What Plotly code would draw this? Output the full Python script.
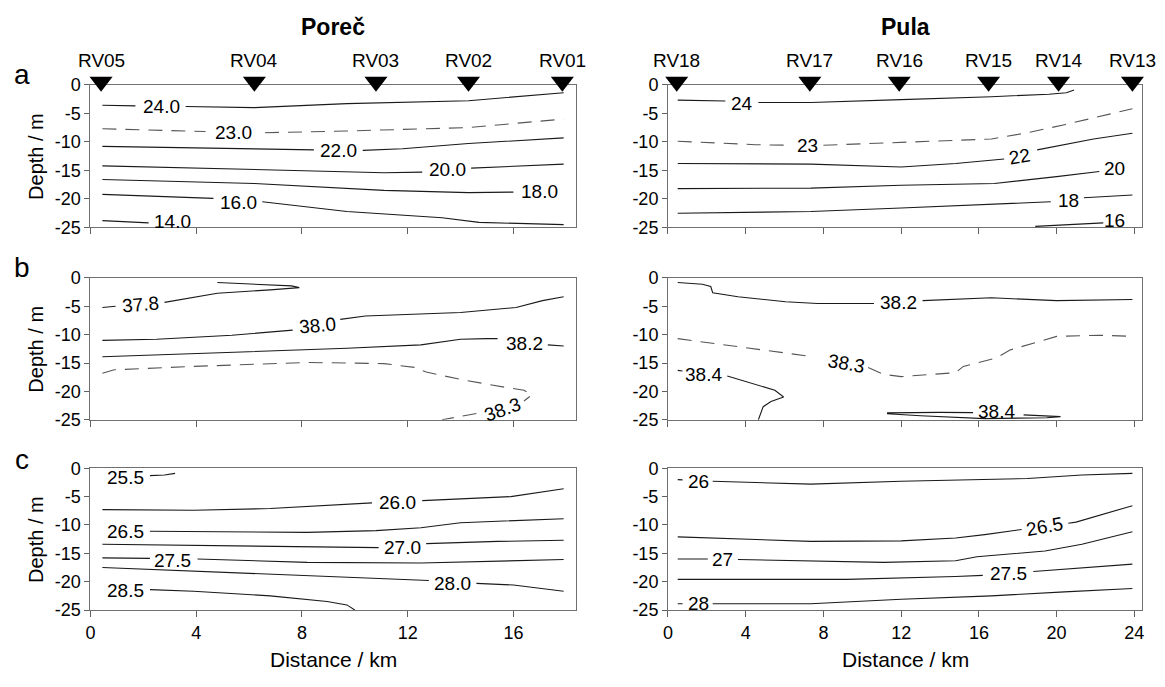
import plotly.graph_objects as go

FONT = "Liberation Sans, Arial, sans-serif"

# ---------------- stations ----------------
POREC_STATIONS = ["RV05", "RV04", "RV03", "RV02", "RV01"]
POREC_STATION_KM = [0.4, 6.2, 10.8, 14.3, 17.85]
PULA_STATIONS = ["RV18", "RV17", "RV16", "RV15", "RV14", "RV13"]
PULA_STATION_KM = [0.45, 7.3, 11.9, 16.5, 20.1, 23.9]

DEPTH_TICKS = [0, -5, -10, -15, -20, -25]
DEPTH_TICK_TEXT = ["0", "-5", "-10", "-15", "-20", "-25"]
POREC_KM_TICKS = [0, 4, 8, 12, 16]
PULA_KM_TICKS = [0, 4, 8, 12, 16, 20, 24]

# ---------------- (a) temperature, Porec ----------------
POR_T24_X = [0.45, 1.7, None, 3.6, 6.2, 9.7, 14.3, 17.9]
POR_T24_Y = [-3.6, -3.7, None, -3.8, -4.0, -3.3, -2.8, -1.4]
POR_T23_X = [0.45, 3.0, 4.35, None, 6.6, 9.7, 14.3, 17.9]
POR_T23_Y = [-7.7, -8.0, -8.2, None, -8.4, -8.1, -7.5, -6.0]
POR_T22_X = [0.45, 6.2, 8.45, None, 10.3, 11.8, 14.3, 17.9]
POR_T22_Y = [-10.8, -11.2, -11.4, None, -11.5, -11.2, -10.3, -9.3]
POR_T20_X = [0.45, 6.2, 11.1, 12.55, None, 14.4, 17.9]
POR_T20_Y = [-14.2, -14.8, -15.4, -15.3, None, -14.6, -13.9]
POR_T18_X = [0.45, 6.2, 11.1, 14.3, 16.0]
POR_T18_Y = [-16.6, -17.3, -18.5, -18.9, -18.8]
POR_T16_X = [0.45, 4.65, None, 6.5, 9.7, 13.3, 14.7, 17.9]
POR_T16_Y = [-19.2, -19.9, None, -20.5, -22.2, -23.3, -24.1, -24.5]
POR_T14_X = [0.45, 2.2]
POR_T14_Y = [-23.8, -24.2]
POR_T_LABELS = ["24.0", "23.0", "22.0", "20.0", "18.0", "16.0", "14.0"]
POR_T_LABEL_X = [2.7, 5.4, 9.4, 13.5, 17.0, 5.6, 3.1]
POR_T_LABEL_Y = [-3.8, -8.4, -11.6, -14.8, -18.7, -20.6, -24.0]
POR_T_LABEL_ANGLE = [0, 0, 0, 0, 0, 0, 0]

# ---------------- (a) temperature, Pula ----------------
PUL_T24_X = [0.5, 2.95, None, 4.65, 7.35, 12.0, 16.65, 19.6, 20.5, 20.9]
PUL_T24_Y = [-2.7, -2.85, None, -3.1, -3.1, -2.6, -2.1, -1.65, -1.4, -0.9]
PUL_T23_X = [0.5, 4.5, 6.3, None, 8.0, 12.0, 16.65, 18.5, 20.4, 23.9]
PUL_T23_Y = [-9.9, -10.5, -10.6, None, -10.6, -10.1, -9.5, -8.4, -7.0, -4.2]
PUL_T22_X = [0.5, 7.35, 12.0, 14.8, 17.3, None, 19.0, 21.9, 23.9]
PUL_T22_Y = [-13.8, -13.9, -14.4, -13.8, -13.0, None, -11.4, -9.5, -8.5]
PUL_T20_X = [0.5, 7.35, 12.0, 16.8, 20.0, 22.2]
PUL_T20_Y = [-18.2, -18.1, -17.6, -17.3, -16.1, -15.2]
PUL_T18_X = [0.5, 7.35, 12.0, 16.65, 19.7, None, 21.4, 23.9]
PUL_T18_Y = [-22.5, -22.2, -21.6, -21.0, -20.5, None, -19.8, -19.3]
PUL_T16_X = [18.9, 21.9, 22.4]
PUL_T16_Y = [-24.8, -24.3, -24.2]
PUL_T_LABELS = ["24", "23", "22", "20", "18", "16"]
PUL_T_LABEL_X = [3.8, 7.2, 18.1, 23.0, 20.6, 23.0]
PUL_T_LABEL_Y = [-3.2, -10.6, -12.5, -14.6, -20.3, -23.7]
PUL_T_LABEL_ANGLE = [0, 0, -10, 0, 0, 0]

# ---------------- (b) salinity, Porec ----------------
POR_S378_X = [0.45, 0.95, None, 2.8, 4.8, 6.8, 7.6, 7.9, 7.6, 6.0, 4.8]
POR_S378_Y = [-5.2, -5.0, None, -4.3, -2.7, -2.1, -1.9, -1.7, -1.4, -1.1, -0.8]
POR_S380_X = [0.45, 2.5, 5.35, 7.65, None, 9.45, 10.4, 14.0, 16.1, 17.1, 17.9]
POR_S380_Y = [-11.0, -10.8, -10.1, -9.2, None, -7.3, -6.7, -6.1, -5.2, -4.0, -3.3]
POR_S382_X = [0.45, 5.35, 9.7, 12.5, 14.0, 15.0, 15.4, None, 17.3, 17.9]
POR_S382_Y = [-13.9, -13.1, -12.4, -11.8, -10.8, -10.7, -10.7, None, -11.8, -12.0]
POR_S383_X = [0.45, 0.9, 3.9, 8.2, 11.1, 12.3, 12.7, 14.0, 15.7, 16.4, 16.7, 16.4, None, 14.6, 13.3]
POR_S383_Y = [-16.8, -16.2, -15.6, -14.9, -15.1, -15.8, -16.6, -17.9, -19.3, -19.8, -20.6, -21.7, None, -23.9, -25.0]
POR_S_LABELS = ["37.8", "38.0", "38.2", "38.3"]
POR_S_LABEL_X = [1.9, 8.6, 16.4, 15.6]
POR_S_LABEL_Y = [-4.7, -8.4, -11.5, -23.2]
POR_S_LABEL_ANGLE = [-5, -5, 0, -20]

# ---------------- (b) salinity, Pula ----------------
PUL_S382_X = [0.5, 1.77, 2.2, 2.3, 3.6, 6.05, 7.7, 10.6, None, 13.1, 16.65, 20.0, 23.9]
PUL_S382_Y = [-0.8, -1.1, -1.5, -2.6, -3.3, -4.2, -4.5, -4.5, None, -4.0, -3.5, -4.0, -3.8]
PUL_S383_X = [0.5, 3.6, 7.5, None, 10.3, 11.1, 12.0, 14.8, 15.2, 16.9, 17.6, 18.5, 20.0, 22.2, 23.9]
PUL_S383_Y = [-10.7, -12.1, -13.9, None, -15.8, -17.0, -17.4, -16.7, -15.6, -14.1, -12.7, -11.8, -10.3, -10.1, -10.3]
PUL_S384A_X = [0.5, 0.75, None, 3.05, 5.5, 5.95, 5.3, 4.9, 4.8, 4.65]
PUL_S384A_Y = [-16.3, -16.4, None, -17.3, -19.8, -21.0, -21.8, -22.7, -23.5, -25.0]
PUL_S384B_X = [15.7, 14.0, 11.3, 11.3, 13.0, 16.3, 19.5, 20.2, 18.3]
PUL_S384B_Y = [-23.75, -23.7, -23.8, -23.95, -24.3, -24.8, -24.65, -24.45, -24.15]
PUL_S_LABELS = ["38.2", "38.3", "38.4", "38.4"]
PUL_S_LABEL_X = [11.85, 9.2, 1.85, 16.9]
PUL_S_LABEL_Y = [-4.4, -15.0, -17.0, -23.6]
PUL_S_LABEL_ANGLE = [0, 10, 0, 0]

# ---------------- (c) density, Porec ----------------
POR_D255_X = [2.25, 2.8, 3.2]
POR_D255_Y = [-1.3, -1.2, -0.9]
POR_D260_X = [0.45, 3.9, 6.8, 10.65, None, 12.55, 15.9, 17.9]
POR_D260_Y = [-7.3, -7.4, -7.1, -6.1, None, -5.7, -5.0, -3.6]
POR_D265_X = [2.25, 8.2, 10.8, 12.5, 14.0, 17.9]
POR_D265_Y = [-11.1, -11.3, -11.0, -10.5, -9.6, -8.9]
POR_D270_X = [0.45, 5.35, 9.7, 10.9, None, 12.7, 15.4, 17.9]
POR_D270_Y = [-13.4, -13.7, -14.0, -14.0, None, -13.3, -12.9, -12.7]
POR_D275_X = [0.45, 2.25, None, 4.05, 8.2, 12.5, 17.9]
POR_D275_Y = [-15.8, -15.9, None, -16.0, -16.6, -16.7, -16.1]
POR_D280_X = [0.45, 5.35, 9.7, 12.8, None, 14.6, 16.0, 17.9]
POR_D280_Y = [-17.5, -18.4, -19.2, -19.8, None, -20.3, -20.6, -21.7]
POR_D285_X = [2.25, 3.9, 6.8, 8.95, 9.7, 10.0]
POR_D285_Y = [-21.4, -21.7, -22.5, -23.5, -24.1, -25.0]
POR_D_LABELS = ["25.5", "26.0", "26.5", "27.0", "27.5", "28.0", "28.5"]
POR_D_LABEL_X = [1.34, 11.6, 1.34, 11.8, 3.1, 13.7, 1.34]
POR_D_LABEL_Y = [-1.7, -6.0, -11.2, -13.9, -16.2, -20.3, -21.5]
POR_D_LABEL_ANGLE = [0, 0, 0, 0, 0, 0, 0]

# ---------------- (c) density, Pula ----------------
PUL_D260_X = [0.5, 0.75, None, 2.3, 7.35, 12.0, 18.5, 21.3, 23.9]
PUL_D260_Y = [-2.0, -2.05, None, -2.3, -2.8, -2.3, -1.8, -1.2, -0.9]
PUL_D265_X = [0.5, 7.35, 12.0, 14.8, 16.3, 18.2, None, 20.6, 21.0, 23.9]
PUL_D265_Y = [-12.1, -12.9, -12.8, -12.3, -11.7, -10.8, None, -9.7, -9.5, -6.6]
PUL_D270_X = [0.5, 2.05, None, 3.6, 11.1, 14.8, 15.9, 19.4, 21.3, 23.9]
PUL_D270_Y = [-16.0, -16.0, None, -16.1, -16.6, -16.3, -15.6, -14.6, -13.4, -11.2]
PUL_D275_X = [0.5, 9.2, 14.8, 16.2, None, 18.8, 21.3, 23.9]
PUL_D275_Y = [-19.6, -19.6, -19.1, -18.9, None, -18.2, -17.5, -16.9]
PUL_D280_X = [0.5, 0.75, None, 2.3, 7.35, 12.0, 16.65, 20.4, 23.9]
PUL_D280_Y = [-23.9, -23.9, None, -23.9, -23.9, -23.1, -22.5, -21.8, -21.2]
PUL_D_LABELS = ["26", "26.5", "27", "27.5", "28"]
PUL_D_LABEL_X = [1.55, 19.4, 2.8, 17.5, 1.55]
PUL_D_LABEL_Y = [-2.3, -10.2, -16.1, -18.6, -23.9]
PUL_D_LABEL_ANGLE = [0, -10, 0, 0, 0]

# ---------------- panel assembly ----------------
PANELS = [
    ("", [(POR_T24_X, POR_T24_Y, False), (POR_T23_X, POR_T23_Y, True), (POR_T22_X, POR_T22_Y, False),
          (POR_T20_X, POR_T20_Y, False), (POR_T18_X, POR_T18_Y, False), (POR_T16_X, POR_T16_Y, False),
          (POR_T14_X, POR_T14_Y, False)],
     (POR_T_LABELS, POR_T_LABEL_X, POR_T_LABEL_Y, POR_T_LABEL_ANGLE)),
    ("2", [(PUL_T24_X, PUL_T24_Y, False), (PUL_T23_X, PUL_T23_Y, True), (PUL_T22_X, PUL_T22_Y, False),
           (PUL_T20_X, PUL_T20_Y, False), (PUL_T18_X, PUL_T18_Y, False), (PUL_T16_X, PUL_T16_Y, False)],
     (PUL_T_LABELS, PUL_T_LABEL_X, PUL_T_LABEL_Y, PUL_T_LABEL_ANGLE)),
    ("3", [(POR_S378_X, POR_S378_Y, False), (POR_S380_X, POR_S380_Y, False), (POR_S382_X, POR_S382_Y, False),
           (POR_S383_X, POR_S383_Y, True)],
     (POR_S_LABELS, POR_S_LABEL_X, POR_S_LABEL_Y, POR_S_LABEL_ANGLE)),
    ("4", [(PUL_S382_X, PUL_S382_Y, False), (PUL_S383_X, PUL_S383_Y, True), (PUL_S384A_X, PUL_S384A_Y, False),
           (PUL_S384B_X, PUL_S384B_Y, False)],
     (PUL_S_LABELS, PUL_S_LABEL_X, PUL_S_LABEL_Y, PUL_S_LABEL_ANGLE)),
    ("5", [(POR_D255_X, POR_D255_Y, False), (POR_D260_X, POR_D260_Y, False), (POR_D265_X, POR_D265_Y, False),
           (POR_D270_X, POR_D270_Y, False), (POR_D275_X, POR_D275_Y, False), (POR_D280_X, POR_D280_Y, False),
           (POR_D285_X, POR_D285_Y, False)],
     (POR_D_LABELS, POR_D_LABEL_X, POR_D_LABEL_Y, POR_D_LABEL_ANGLE)),
    ("6", [(PUL_D260_X, PUL_D260_Y, False), (PUL_D265_X, PUL_D265_Y, False), (PUL_D270_X, PUL_D270_Y, False),
           (PUL_D275_X, PUL_D275_Y, False), (PUL_D280_X, PUL_D280_Y, False)],
     (PUL_D_LABELS, PUL_D_LABEL_X, PUL_D_LABEL_Y, PUL_D_LABEL_ANGLE)),
]

W, H = 1165, 687
fig = go.Figure()
annotations = []


def txt(text, x, y, size, xref="paper", yref="paper", angle=0, yshift=0, bold=False):
    return dict(text=f"<b>{text}</b>" if bold else text, x=x, y=y, xref=xref, yref=yref,
                showarrow=False, textangle=angle, yshift=yshift, xanchor="center", yanchor="middle",
                font=dict(family=FONT, size=size, color="#000"))


for suffix, lines, (ltxt, lx, ly, lang) in PANELS:
    xa, ya = "x" + suffix, "y" + suffix
    for xs, ys, dashed in lines:
        fig.add_trace(go.Scatter(
            x=xs, y=ys, mode="lines", xaxis=xa, yaxis=ya, showlegend=False, hoverinfo="skip",
            connectgaps=False,
            line=dict(color="#555555" if dashed else "#1a1a1a", width=1.1,
                      dash="14px,9px" if dashed else "solid")))
    for t, x, y, a in zip(ltxt, lx, ly, lang):
        annotations.append(txt(t, x, y, 19, xref=xa, yref=ya, angle=a))

# station strips (own invisible y axes above the top panels)
for xa, ya, names, kms in [("x", "y7", POREC_STATIONS, POREC_STATION_KM),
                           ("x2", "y8", PULA_STATIONS, PULA_STATION_KM)]:
    fig.add_trace(go.Scatter(
        x=kms, y=[0.5] * len(kms), mode="markers", xaxis=xa, yaxis=ya, showlegend=False,
        cliponaxis=False, hoverinfo="skip",
        marker=dict(symbol="triangle-down", size=20, color="#000", line=dict(width=0))))
    for n, k in zip(names, kms):
        annotations.append(txt(n, k, 0.5, 19, xref=xa, yref=ya, yshift=21))

# layout geometry (pixels -> paper)
LEFT_PX = (86, 574)
RIGHT_PX = (667, 1144)
LEFT_X = (LEFT_PX[0] / W, LEFT_PX[1] / W)
RIGHT_X = (RIGHT_PX[0] / W, RIGHT_PX[1] / W)
ROWS = [(77, 224), (276, 422), (472, 618)]
ydoms = [(1 - b / H, 1 - t / H) for t, b in ROWS]
STRIP = (1 - 89 / H, 1 - 59 / H)

axis_common = dict(showgrid=False, zeroline=False, showline=True, linecolor="#707070", linewidth=1,
                   mirror=True, ticks="outside", tickcolor="#606060", tickwidth=1,
                   tickfont=dict(family=FONT, size=18, color="#000"))
layout_axes = {}
for i, (suffix, _, _) in enumerate(PANELS):
    row, col = divmod(i, 2)
    left = col == 0
    layout_axes["xaxis" + suffix] = dict(
        axis_common, domain=LEFT_X if left else RIGHT_X,
        range=[0, 18.35] if left else [0, 24.4],
        tickvals=POREC_KM_TICKS if left else PULA_KM_TICKS,
        showticklabels=(row == 2), ticklen=6, anchor="y" + suffix)
    layout_axes["yaxis" + suffix] = dict(
        axis_common, domain=ydoms[row], range=[-25, 0],
        tickvals=DEPTH_TICKS, ticktext=DEPTH_TICK_TEXT, ticklen=5, anchor="x" + suffix)
layout_axes["yaxis7"] = dict(domain=STRIP, range=[0, 1], visible=False, anchor="x", fixedrange=True)
layout_axes["yaxis8"] = dict(domain=STRIP, range=[0, 1], visible=False, anchor="x2", fixedrange=True)

lc = (LEFT_PX[0] + LEFT_PX[1]) / 2
rc = (RIGHT_PX[0] + RIGHT_PX[1]) / 2
annotations += [
    txt("Poreč", lc / W, 1 - 18 / H, 23, bold=True),
    txt("Pula", rc / W, 1 - 18 / H, 23, bold=True),
]
for letter, yc in [("a", 66), ("b", 265), ("c", 463)]:
    annotations.append(txt(letter, 17 / W, 1 - yc / H, 28))
for t, b in ROWS:
    annotations.append(txt("Depth / m", 31 / W, 1 - (t + b) / 2 / H, 20, angle=-90))
for xc in (lc, rc):
    annotations.append(txt("Distance / km", xc / W, 1 - 669 / H, 21))

fig.update_layout(
    width=W, height=H, autosize=False, margin=dict(l=0, r=0, t=0, b=0),
    paper_bgcolor="white", plot_bgcolor="rgba(0,0,0,0)", showlegend=False,
    annotations=annotations, **layout_axes)

fig.write_html("out.html")
